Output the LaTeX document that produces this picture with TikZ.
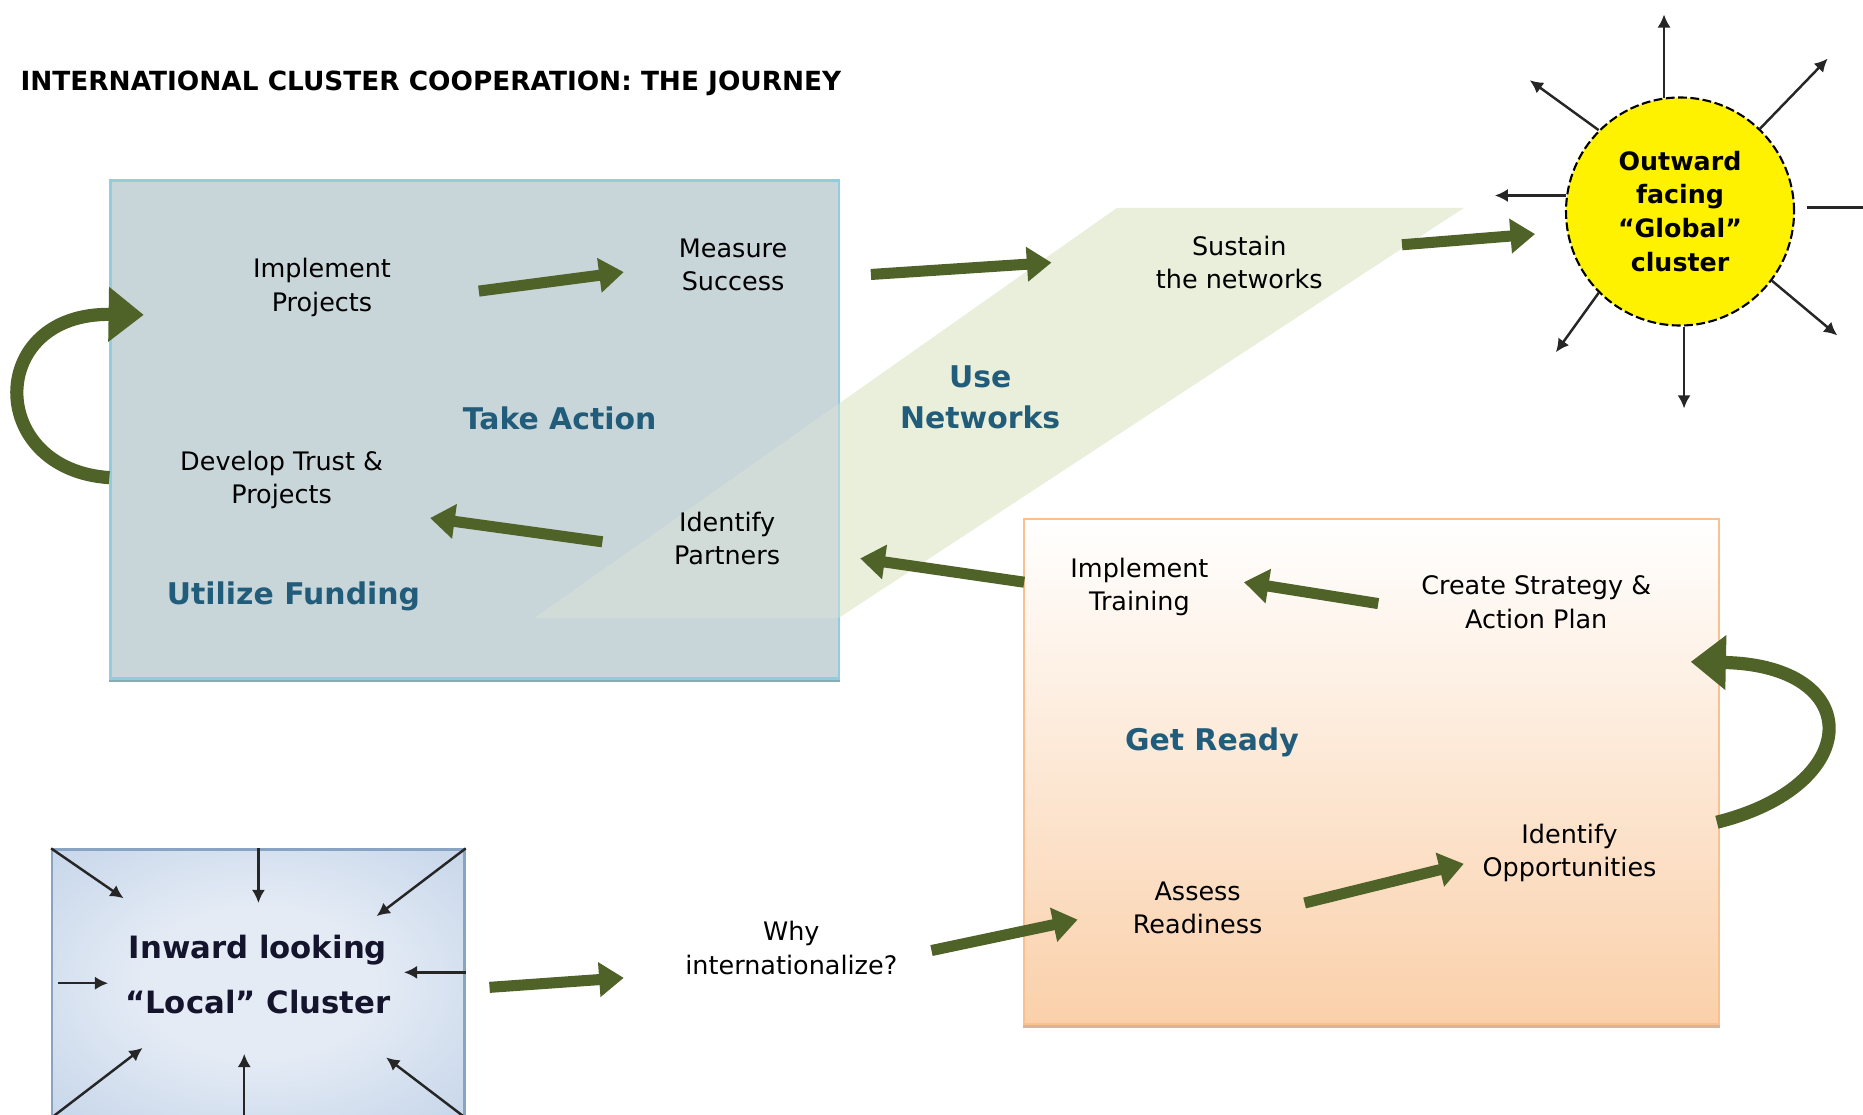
\documentclass[tikz,border=0pt]{standalone}
\usepackage{fontspec}
\setmainfont{DejaVu Sans}
\usetikzlibrary{arrows.meta,shapes}
\tikzset{>={Latex[length=7.5pt,width=7.5pt]}}

\definecolor{arrowgreen}{RGB}{79,98,40}
\definecolor{phaseblue}{RGB}{33,92,122}
\definecolor{actionfill}{RGB}{200,213,217}
\definecolor{actionline}{RGB}{146,205,221}
\definecolor{actionshadow}{RGB}{138,170,180}
\definecolor{bandgreen}{RGB}{233,239,219}
\definecolor{readyline}{RGB}{250,192,143}
\definecolor{readypeach}{RGB}{250,208,170}
\definecolor{readyshadow}{RGB}{215,180,155}
\definecolor{localedge}{RGB}{140,172,212}
\definecolor{localmid}{RGB}{228,235,245}
\definecolor{localtext}{RGB}{20,20,45}

\pgfdeclareradialshading{localshade}{\pgfpoint{0bp}{0bp}}{%
	color(0bp)=(localmid); color(14bp)=(localmid); color(50bp)=(localedge!55!localmid); color(71bp)=(localedge)}

\tikzset{
	stage/.style={align=center, inner sep=0pt, font=\fontsize{14.5}{19}\selectfont},
	phase/.style={align=center, inner sep=0pt, text=phaseblue, font=\bfseries\fontsize{17}{23.5}\selectfont},
	actionbox/.style={fill=actionfill, draw=actionline, line width=1.3pt, inner sep=0pt},
	readybox/.style={top color=white, middle color=readypeach!45!white, bottom color=readypeach, draw=readyline, line width=1.3pt, inner sep=0pt},
	localbox/.style={shading=localshade, draw=localedge!80!gray, line width=1.3pt, inner sep=0pt},
	sun/.style={circle, fill=yellow, draw=black, dash pattern=on 5pt off 2pt, line width=1.2pt, minimum size=4.56cm, inner sep=0pt, align=center, font=\bfseries\fontsize{14.4}{19.3}\selectfont},
	bigarrow/.style={draw=arrowgreen, line width=6.3pt, -{Triangle[length=14pt,width=19pt]}},
	looparrow/.style={draw=arrowgreen, line width=7.5pt, -{Triangle[length=20pt,width=30pt]}},
	ray/.style={draw=black!85, line width=1.4pt, ->},
}

\begin{document}
\begin{tikzpicture}[x=0.02376cm, y=-0.02376cm]
	
	\useasboundingbox (0,0) rectangle (1568,938);
	\clip (0,0) rectangle (1568,938);
	
	% Boxes
	
	\fill[bandgreen] (940,175) -- (1232,175) -- (706,520) -- (450,520) -- cycle;
	
	\node[actionbox, minimum width=14.565cm, minimum height=9.955cm](action-box) at (399.5,361.5) {};
	
	\begin{scope}
		\clip (action-box.south west) rectangle (action-box.north east);
		\fill[bandgreen, opacity=0.3] (940,175) -- (1232,175) -- (706,520) -- (450,520) -- cycle;
	\end{scope}
	\draw[actionshadow, line width=1.5pt] ([yshift=-0.7pt]action-box.south west) -- ([yshift=-0.7pt]action-box.south east);
	
	\node[readybox, minimum width=13.9cm, minimum height=10.098cm](ready-box) at (1154.5,649.5) {};
	\draw[readyshadow, line width=1.5pt] ([yshift=-0.7pt]ready-box.south west) -- ([yshift=-0.7pt]ready-box.south east);
	
	\node[localbox, minimum width=8.245cm, minimum height=5.346cm](local-box) at (217.5,827.5) {};
	
	\node[sun](global) at (1414,178) {Outward\\facing\\“Global”\\cluster};
	
	% Descriptions
	
	\node[anchor=west, inner sep=0pt, font=\bfseries\fontsize{15}{18}\selectfont](title) at (17,70) {INTERNATIONAL CLUSTER COOPERATION: THE JOURNEY};
	
	\node[stage](impl-projects) at (271,242) {Implement\\Projects};
	\node[stage](measure) at (617,223) {Measure\\Success};
	\node[phase](take-action) at (471,352) {Take Action};
	\node[stage](dev-trust) at (237,404) {Develop Trust \&\\Projects};
	\node[stage](id-partners) at (612,453) {Identify\\Partners};
	\node[phase](utilize) at (247,502) {Utilize Funding};
	
	\node[stage](sustain) at (1043,221) {Sustain\\the networks};
	\node[phase](use-networks) at (825,334.5) {Use\\Networks};
	
	\node[stage](impl-training) at (959,494) {Implement\\Training};
	\node[stage](strategy) at (1293,507) {Create Strategy \&\\Action Plan};
	\node[phase](get-ready) at (1020,625) {Get Ready};
	\node[stage](id-opps) at (1321,718) {Identify\\Opportunities};
	\node[stage](assess) at (1008,764) {Assess\\Readiness};
	
	\node[stage](why) at (666,798) {Why\\internationalize?};
	\node[phase, text=localtext, font=\bfseries\fontsize{17.5}{31}\selectfont](local) at (217,820) {Inward looking\\“Local” Cluster};
	
	% Arrow ends
	
	\coordinate (impl-projects-out) at (403,245);
	\coordinate (measure-in) at (525,229);
	\coordinate (id-partners-out) at (507,456);
	\coordinate (dev-trust-in) at (362,436);
	\coordinate (action-out) at (733,231);
	\coordinate (sustain-in) at (885,221);
	\coordinate (sustain-out) at (1180,206);
	\coordinate (global-in) at (1292,197);
	\coordinate (ready-out) at (862,490);
	\coordinate (id-partners-in) at (724,470);
	\coordinate (strategy-out) at (1160,508);
	\coordinate (impl-training-in) at (1047,490);
	\coordinate (assess-out) at (1098,760);
	\coordinate (id-opps-in) at (1232,727);
	\coordinate (why-out) at (784,800);
	\coordinate (assess-in) at (907,774);
	\coordinate (local-out) at (412,831);
	\coordinate (why-in) at (525,823);
	\coordinate (action-loop-start) at (92,402);
	\coordinate (action-loop-end) at (121,265);
	\coordinate (ready-loop-start) at (1445,692);
	\coordinate (ready-loop-end) at (1423,557);
	
	% Arrows
	
	\draw[bigarrow] (impl-projects-out) -- (measure-in);
	\draw[bigarrow] (id-partners-out) -- (dev-trust-in);
	\draw[bigarrow] (action-out) -- (sustain-in);
	\draw[bigarrow] (sustain-out) -- (global-in);
	\draw[bigarrow] (ready-out) -- (id-partners-in);
	\draw[bigarrow] (strategy-out) -- (impl-training-in);
	\draw[bigarrow] (assess-out) -- (id-opps-in);
	\draw[bigarrow] (why-out) -- (assess-in);
	\draw[bigarrow] (local-out) -- (why-in);
	
	\draw[looparrow] (action-loop-start) .. controls (-12,395) and (-12,263) .. (action-loop-end);
	\draw[looparrow] (ready-loop-start) .. controls (1570,661) and (1570,560) .. (ready-loop-end);
	
	% Rays
	
	\draw[ray] (global.98) -- ++(0,-70);
	\draw[ray] (global.46) -- ++(57,-59);
	\draw[ray] (global.135) -- ++(-58,-42);
	\draw[ray] (global.172) -- ++(-60,0);
	\draw[ray] (global.2) ++(10,0) -- ++(70,0);
	\draw[ray] (global.225) -- ++(-36,50);
	\draw[ray] (global.272) -- ++(0,69);
	\draw[ray] (global.323) -- ++(55,46);
	
	\draw[ray] (local-box.north west) -- ++(61,42);
	\draw[ray] (local-box.north) -- ++(0,46);
	\draw[ray] (local-box.north east) -- ++(-75,57);
	\draw[ray] (local-box.west) ++(6,0) -- ++(42,0);
	\draw[ray] (local-box.3) -- ++(-52,0);
	\draw[ray] (local-box.south west) -- ++(77,-59);
	\draw[ray] (local-box.264) -- ++(0,-54);
	\draw[ray] (local-box.south east) -- ++(-67,-51);
	
\end{tikzpicture}
\end{document}
